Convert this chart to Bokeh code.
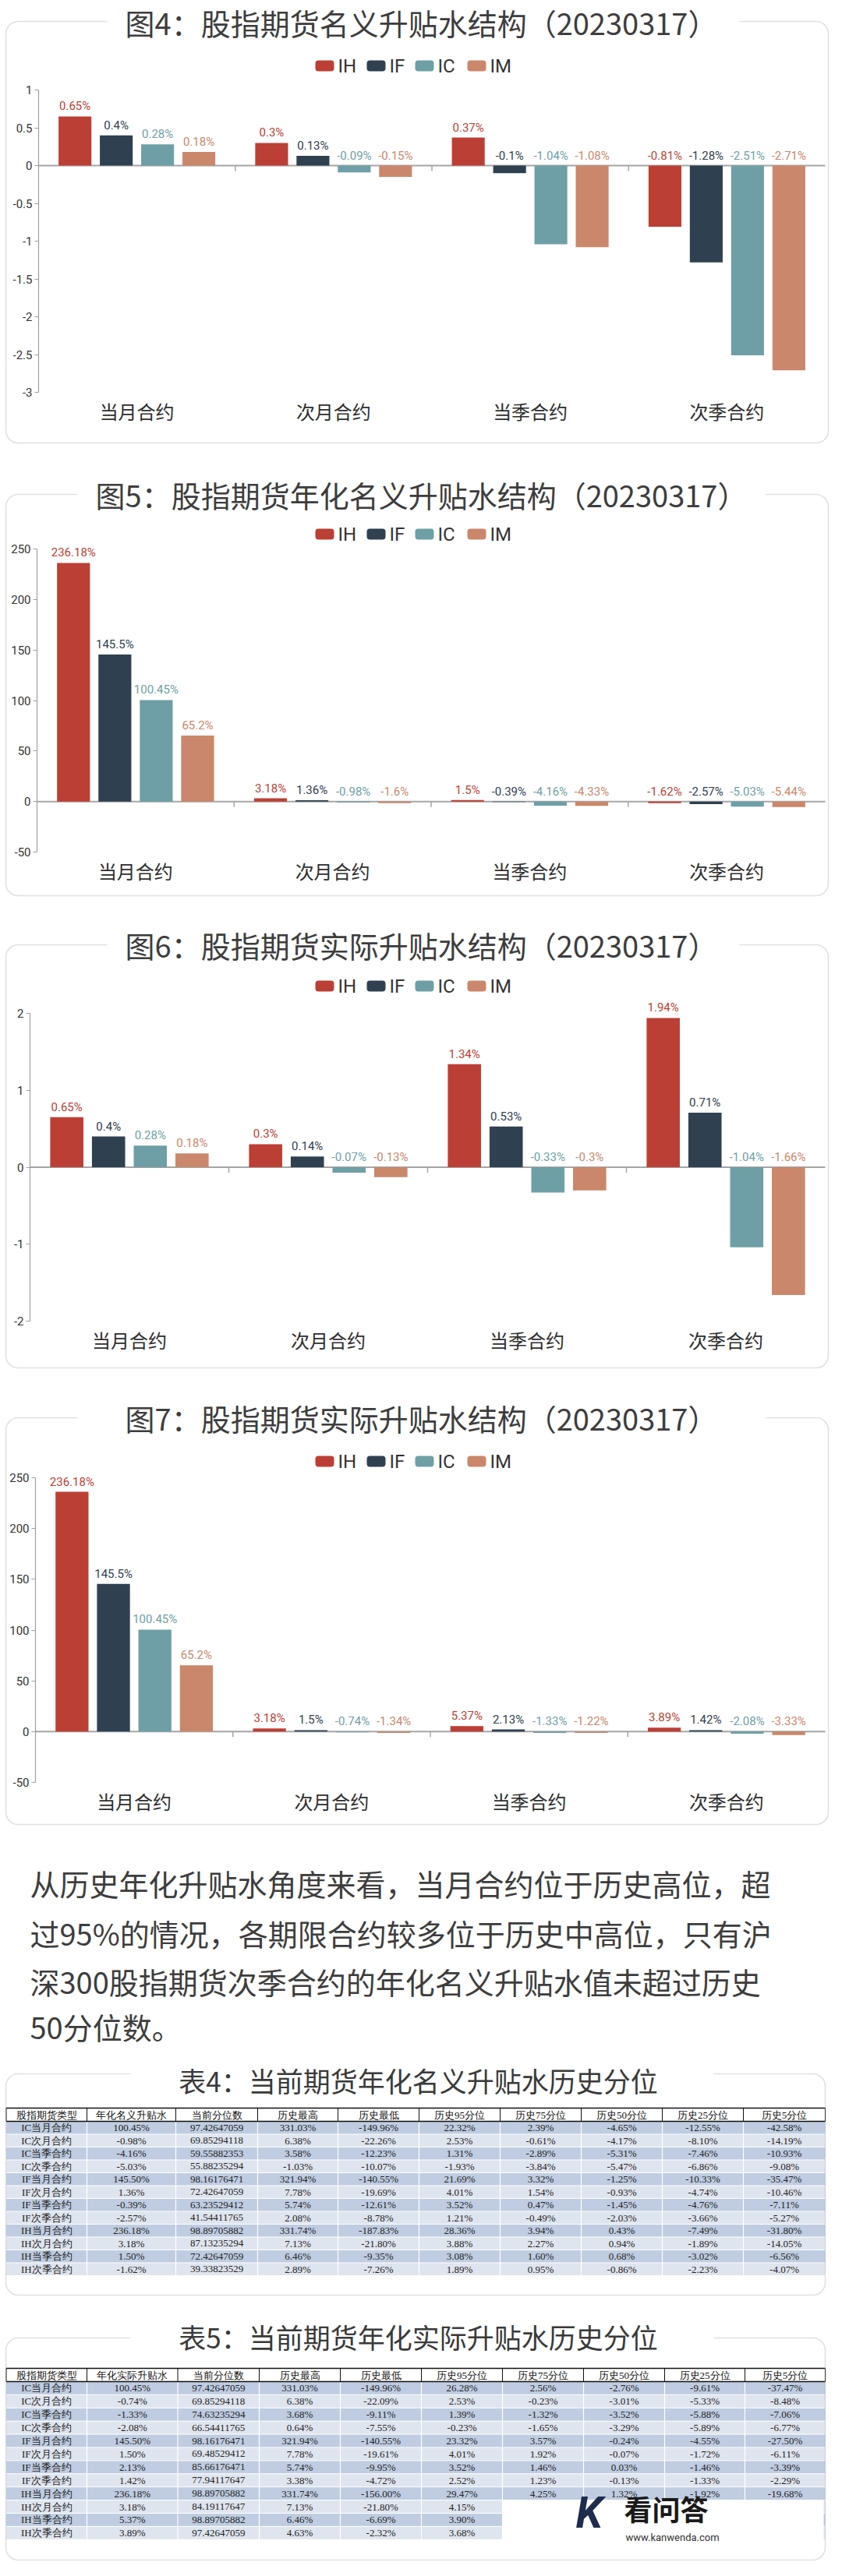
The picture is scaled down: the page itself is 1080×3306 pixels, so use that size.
from bokeh.plotting import figure
from bokeh.models import (Range1d, LinearAxis, FixedTicker, BoxAnnotation, Label,
                          ColumnDataSource, NumeralTickFormatter)
from bokeh.layouts import column
from bokeh.core.properties import value
from bokeh.embed import file_html
from bokeh.resources import INLINE

W = 1064
CJK = "Noto Sans CJK SC"
LAT = "Roboto"

# ---------------- data ----------------
categories = ["当月合约", "次月合约", "当季合约", "次季合约"]
series = ["IH", "IF", "IC", "IM"]
colors = ["#bc3f35", "#2f4050", "#6f9fa6", "#cb876b"]

# 图4 名义升贴水 (%)
fig4_IH = [0.65, 0.3, 0.37, -0.81]
fig4_IF = [0.4, 0.13, -0.1, -1.28]
fig4_IC = [0.28, -0.09, -1.04, -2.51]
fig4_IM = [0.18, -0.15, -1.08, -2.71]
fig4_ticks = [-3, -2.5, -2, -1.5, -1, -0.5, 0, 0.5, 1]

# 图5 年化名义升贴水 (%)
fig5_IH = [236.18, 3.18, 1.5, -1.62]
fig5_IF = [145.5, 1.36, -0.39, -2.57]
fig5_IC = [100.45, -0.98, -4.16, -5.03]
fig5_IM = [65.2, -1.6, -4.33, -5.44]
fig5_ticks = [-50, 0, 50, 100, 150, 200, 250]

# 图6 实际升贴水 (%)
fig6_IH = [0.65, 0.3, 1.34, 1.94]
fig6_IF = [0.4, 0.14, 0.53, 0.71]
fig6_IC = [0.28, -0.07, -0.33, -1.04]
fig6_IM = [0.18, -0.13, -0.3, -1.66]
fig6_ticks = [-2, -1, 0, 1, 2]

# 图7 年化实际升贴水 (%)
fig7_IH = [236.18, 3.18, 5.37, 3.89]
fig7_IF = [145.5, 1.5, 2.13, 1.42]
fig7_IC = [100.45, -0.74, -1.33, -2.08]
fig7_IM = [65.2, -1.34, -1.22, -3.33]
fig7_ticks = [-50, 0, 50, 100, 150, 200, 250]

para_lines = ["从历史年化升贴水角度来看，当月合约位于历史高位，超",
              "过95%的情况，各期限合约较多位于历史中高位，只有沪",
              "深300股指期货次季合约的年化名义升贴水值未超过历史",
              "50分位数。"]

t_types = ["IC当月合约", "IC次月合约", "IC当季合约", "IC次季合约",
           "IF当月合约", "IF次月合约", "IF当季合约", "IF次季合约",
           "IH当月合约", "IH次月合约", "IH当季合约", "IH次季合约"]

t4_headers = ["股指期货类型", "年化名义升贴水", "当前分位数", "历史最高", "历史最低",
              "历史95分位", "历史75分位", "历史50分位", "历史25分位", "历史5分位"]
t4_basis = ["100.45%", "-0.98%", "-4.16%", "-5.03%", "145.50%", "1.36%", "-0.39%", "-2.57%",
            "236.18%", "3.18%", "1.50%", "-1.62%"]
t4_rank = ["97.42647059", "69.85294118", "59.55882353", "55.88235294", "98.16176471", "72.42647059",
           "63.23529412", "41.54411765", "98.89705882", "87.13235294", "72.42647059", "39.33823529"]
t4_max = ["331.03%", "6.38%", "3.58%", "-1.03%", "321.94%", "7.78%", "5.74%", "2.08%",
          "331.74%", "7.13%", "6.46%", "2.89%"]
t4_min = ["-149.96%", "-22.26%", "-12.23%", "-10.07%", "-140.55%", "-19.69%", "-12.61%", "-8.78%",
          "-187.83%", "-21.80%", "-9.35%", "-7.26%"]
t4_p95 = ["22.32%", "2.53%", "1.31%", "-1.93%", "21.69%", "4.01%", "3.52%", "1.21%",
          "28.36%", "3.88%", "3.08%", "1.89%"]
t4_p75 = ["2.39%", "-0.61%", "-2.89%", "-3.84%", "3.32%", "1.54%", "0.47%", "-0.49%",
          "3.94%", "2.27%", "1.60%", "0.95%"]
t4_p50 = ["-4.65%", "-4.17%", "-5.31%", "-5.47%", "-1.25%", "-0.93%", "-1.45%", "-2.03%",
          "0.43%", "0.94%", "0.68%", "-0.86%"]
t4_p25 = ["-12.55%", "-8.10%", "-7.46%", "-6.86%", "-10.33%", "-4.74%", "-4.76%", "-3.66%",
          "-7.49%", "-1.89%", "-3.02%", "-2.23%"]
t4_p5 = ["-42.58%", "-14.19%", "-10.93%", "-9.08%", "-35.47%", "-10.46%", "-7.11%", "-5.27%",
         "-31.80%", "-14.05%", "-6.56%", "-4.07%"]

t5_headers = ["股指期货类型", "年化实际升贴水", "当前分位数", "历史最高", "历史最低",
              "历史95分位", "历史75分位", "历史50分位", "历史25分位", "历史5分位"]
t5_basis = ["100.45%", "-0.74%", "-1.33%", "-2.08%", "145.50%", "1.50%", "2.13%", "1.42%",
            "236.18%", "3.18%", "5.37%", "3.89%"]
t5_rank = ["97.42647059", "69.85294118", "74.63235294", "66.54411765", "98.16176471", "69.48529412",
           "85.66176471", "77.94117647", "98.89705882", "84.19117647", "98.89705882", "97.42647059"]
t5_max = ["331.03%", "6.38%", "3.68%", "0.64%", "321.94%", "7.78%", "5.74%", "3.38%",
          "331.74%", "7.13%", "6.46%", "4.63%"]
t5_min = ["-149.96%", "-22.09%", "-9.11%", "-7.55%", "-140.55%", "-19.61%", "-9.95%", "-4.72%",
          "-156.00%", "-21.80%", "-6.69%", "-2.32%"]
t5_p95 = ["26.28%", "2.53%", "1.39%", "-0.23%", "23.32%", "4.01%", "3.52%", "2.52%",
          "29.47%", "4.15%", "3.90%", "3.68%"]
t5_p75 = ["2.56%", "-0.23%", "-1.32%", "-1.65%", "3.57%", "1.92%", "1.46%", "1.23%",
          "4.25%", "", "", ""]
t5_p50 = ["-2.76%", "-3.01%", "-3.52%", "-3.29%", "-0.24%", "-0.07%", "0.03%", "-0.13%",
          "1.32%", "", "", ""]
t5_p25 = ["-9.61%", "-5.33%", "-5.88%", "-5.89%", "-4.55%", "-1.72%", "-1.46%", "-1.33%",
          "-1.92%", "", "", ""]
t5_p5 = ["-37.47%", "-8.48%", "-7.06%", "-6.77%", "-27.50%", "-6.11%", "-3.39%", "-2.29%",
         "-19.68%", "", "", ""]


# ---------------- helpers ----------------
def add_box(p, box, gap, radius, rn=None):
    kw = dict(x_range_name=rn[0], y_range_name=rn[1]) if rn else {}
    l, t, r, b = box
    p.add_layout(BoxAnnotation(left=l, right=r, top=t, bottom=b, fill_alpha=0,
                               line_color="#9b9b9b", line_width=1.6,
                               border_radius=radius, **kw))
    p.add_layout(BoxAnnotation(left=gap[0], right=gap[1], top=t - 4, bottom=t + 4,
                               fill_color="white", fill_alpha=1, line_alpha=0, **kw))


def bar_chart(H, frame, box, gap, title, title_y, legend_y, ylo, yhi, ticks, vals):
    # frame = pixel box (left, top, right, bottom) of the value area inside the figure
    L, T, R, B = frame
    ncat = len(categories)
    xlo, xhi = -0.5, ncat - 0.5
    kx = (xhi - xlo) / (R - L)
    ky = (yhi - ylo) / (B - T)
    p = figure(width=W, height=H,
               x_range=Range1d(xlo - L * kx, xhi + (W - R) * kx),
               y_range=Range1d(ylo - (H - B) * ky, yhi + T * ky),
               x_axis_type=None, y_axis_type=None,
               toolbar_location=None, output_backend="svg", title=None, min_border=0)
    p.outline_line_color = None
    p.extra_x_ranges = {"px": Range1d(0, W)}
    p.extra_y_ranges = {"py": Range1d(H, 0)}
    rn = ("px", "py")

    add_box(p, box, gap, 16, rn)
    p.add_layout(Label(x=540, y=title_y, text=title, x_range_name="px", y_range_name="py",
                       text_align="center", text_baseline="middle", text_font=CJK,
                       text_font_size="38px", text_color="#3d3d3d"))

    mark_x = [404, 470, 532, 599]
    text_x = [433, 499, 561, 628]
    for s, c, mx, tx in zip(series, colors, mark_x, text_x):
        p.add_layout(BoxAnnotation(left=mx, right=mx + 24, top=legend_y - 7, bottom=legend_y + 7,
                                   fill_color=c, fill_alpha=1, line_alpha=0, border_radius=4,
                                   x_range_name="px", y_range_name="py"))
        p.add_layout(Label(x=tx, y=legend_y, text=s, x_range_name="px", y_range_name="py",
                           text_baseline="middle", text_font=LAT, text_font_size="24px",
                           text_color="#333333"))

    # baseline and group separators
    p.segment(x0=[xlo], y0=[0], x1=[xhi], y1=[0], line_color="#a6a6a6", line_width=2)
    tick = 7.0 * ky
    bx = [i + 0.5 for i in range(ncat - 1)]
    p.segment(x0=bx, y0=[0] * len(bx), x1=bx, y1=[-tick] * len(bx),
              line_color="#a6a6a6", line_width=1.5)

    for k, (s, c, v) in enumerate(zip(series, colors, vals)):
        off = (k - (len(series) - 1) / 2) * 0.21
        xs = [i + off for i in range(ncat)]
        src = ColumnDataSource(dict(x=xs, top=v, ly=[max(a, 0) for a in v],
                                    lab=[f"{a:g}%" for a in v]))
        p.vbar(x="x", top="top", bottom=0, width=0.167, source=src,
               fill_color=c, line_color=None)
        p.text(x="x", y="ly", text="lab", source=src, text_align="center",
               text_baseline="bottom", y_offset=-4, text_color=c,
               text_font=value(LAT), text_font_size=value("15px"))

    yaxis = LinearAxis(ticker=FixedTicker(ticks=ticks), fixed_location=xlo, bounds=(ylo, yhi),
                       formatter=NumeralTickFormatter(format="0.[0]"),
                       axis_line_color="#a0a0a0", axis_line_width=1.2,
                       major_tick_line_color="#a0a0a0", major_tick_out=5, major_tick_in=0,
                       minor_tick_line_color=None, major_label_text_font=LAT,
                       major_label_text_font_size="15px", major_label_text_color="#333333",
                       major_label_standoff=3)
    p.add_layout(yaxis, "left")
    xaxis = LinearAxis(ticker=FixedTicker(ticks=list(range(ncat))), fixed_location=ylo,
                       bounds=(xlo, xhi),
                       major_label_overrides={i: c for i, c in enumerate(categories)},
                       axis_line_color=None, major_tick_line_color=None, major_tick_out=0,
                       major_tick_in=0, minor_tick_line_color=None,
                       major_label_text_font=CJK, major_label_text_font_size="24px",
                       major_label_text_color="#2e2e2e", major_label_standoff=6)
    p.add_layout(xaxis, "below")
    return p


def blank_fig(H):
    p = figure(width=W, height=H, x_range=Range1d(0, W), y_range=Range1d(H, 0),
               x_axis_type=None, y_axis_type=None, toolbar_location=None,
               output_backend="svg", min_border=0, title=None)
    p.outline_line_color = None
    return p


def table_fig(H, box, gap, title, title_y, edges, head_top, head_bot, row_h,
              headers, cols, cover_from_row=None, watermark=False):
    p = blank_fig(H)
    n = len(cols[0])
    ncol = len(cols)
    left, right = edges[0], edges[-1]
    tops = [head_bot + i * row_h for i in range(n)]
    bots = [t + row_h for t in tops]
    fills = ["#bfcce1" if i % 2 == 0 else "#dfe5ee" for i in range(n)]
    p.quad(left=left, right=right, top=tops, bottom=bots, fill_color=fills, line_color=None)
    inner = edges[1:-1]
    p.segment(x0=inner, y0=[head_bot] * len(inner), x1=inner, y1=[bots[-1]] * len(inner),
              line_color="white", line_width=1.2)
    p.segment(x0=[left] * n, y0=bots, x1=[right] * n, y1=bots, line_color="white", line_width=1)
    p.segment(x0=[left, left], y0=[head_top, head_bot], x1=[right, right], y1=[head_top, head_bot],
              line_color="#111111", line_width=1.3)
    p.segment(x0=edges, y0=[head_top] * len(edges), x1=edges, y1=[head_bot] * len(edges),
              line_color="#111111", line_width=1)
    cx = [(edges[j] + edges[j + 1]) / 2 for j in range(ncol)]
    p.text(x=cx, y=[(head_top + head_bot) / 2] * ncol, text=headers, text_align="center",
           text_baseline="middle", text_font=value("Liberation Serif"),
           text_font_size=value("13px"), text_color="#111111")
    xs, ys, ts = [], [], []
    for j, col in enumerate(cols):
        for i, t in enumerate(col):
            xs.append(cx[j]); ys.append((tops[i] + bots[i]) / 2); ts.append(t)
    p.text(x=xs, y=ys, text=ts, text_align="center", text_baseline="middle",
           text_font=value("Liberation Serif"), text_font_size=value("13px"),
           text_color="#222222")
    if cover_from_row is not None:
        p.quad(left=edges[6], right=right - 2, top=tops[cover_from_row], bottom=box[3] - 2,
               fill_color="white", line_color=None)
    if watermark:
        p.text(x=[738], y=[272], text=["K"], text_font=value(LAT), text_font_style="bold italic",
               text_font_size=value("56px"), text_baseline="middle", text_color="#1e2c4e")
        p.text(x=[800], y=[266], text=["看问答"], text_font=value(CJK), text_font_style="bold",
               text_font_size=value("36px"), text_baseline="middle", text_color="#1a1a1a")
        p.text(x=[802], y=[304], text=["www.kanwenda.com"], text_font=value(LAT),
               text_font_size=value("13px"), text_baseline="middle", text_color="#333333")
    add_box(p, box, gap, 16)
    p.add_layout(Label(x=536, y=title_y, text=title, text_align="center",
                       text_baseline="middle", text_font=CJK, text_font_size="35px",
                       text_color="#3a3a3a"))
    return p


# ---------------- charts ----------------
f1 = bar_chart(592, (49, 115, 1058, 503), (7, 27, 1062, 568), (137, 948),
               "图4：股指期货名义升贴水结构（20230317）", 28, 84, -3, 1, fig4_ticks,
               [fig4_IH, fig4_IF, fig4_IC, fig4_IM])
f2 = bar_chart(580, (47, 112, 1058, 501), (7, 42, 1062, 557), (99, 982),
               "图5：股指期货年化名义升贴水结构（20230317）", 42, 93, -50, 250, fig5_ticks,
               [fig5_IH, fig5_IF, fig5_IC, fig5_IM])
f3 = bar_chart(605, (38, 128, 1058, 523), (7, 40, 1062, 583), (137, 948),
               "图6：股指期货实际升贴水结构（20230317）", 40, 93, -2, 2, fig6_ticks,
               [fig6_IH, fig6_IF, fig6_IC, fig6_IM])
f4 = bar_chart(585, (45, 119, 1058, 510), (7, 42, 1062, 564), (99, 982),
               "图7：股指期货实际升贴水结构（20230317）", 42, 98, -50, 250, fig7_ticks,
               [fig7_IH, fig7_IF, fig7_IC, fig7_IM])

# ---------------- paragraph ----------------
f5 = blank_fig(270)
f5.text(x=[38] * len(para_lines), y=[54, 118, 180, 238], text=para_lines,
        text_font=value(CJK), text_font_size=value("38px"), text_baseline="middle",
        text_color="#3d3d3d")

# ---------------- tables ----------------
f6 = table_fig(320, (7, 29, 1058, 313), (167, 915), "表4：当前期货年化名义升贴水历史分位", 37,
               [7.5, 111, 225, 330, 433, 537, 641, 745, 849, 953, 1058], 73, 90, 16.5,
               t4_headers,
               [t_types, t4_basis, t4_rank, t4_max, t4_min, t4_p95, t4_p75, t4_p50, t4_p25, t4_p5])
f7 = table_fig(338, (7, 48, 1058, 333), (167, 915), "表5：当前期货年化实际升贴水历史分位", 46,
               [7.5, 111, 227.5, 332, 436, 540, 644, 748, 852, 955, 1058], 87, 104, 16.9,
               t5_headers,
               [t_types, t5_basis, t5_rank, t5_max, t5_min, t5_p95, t5_p75, t5_p50, t5_p25, t5_p5],
               cover_from_row=9, watermark=True)

layout = column(f1, f2, f3, f4, f5, f6, f7, spacing=0)
open("out.html", "w").write(file_html(layout, INLINE))
